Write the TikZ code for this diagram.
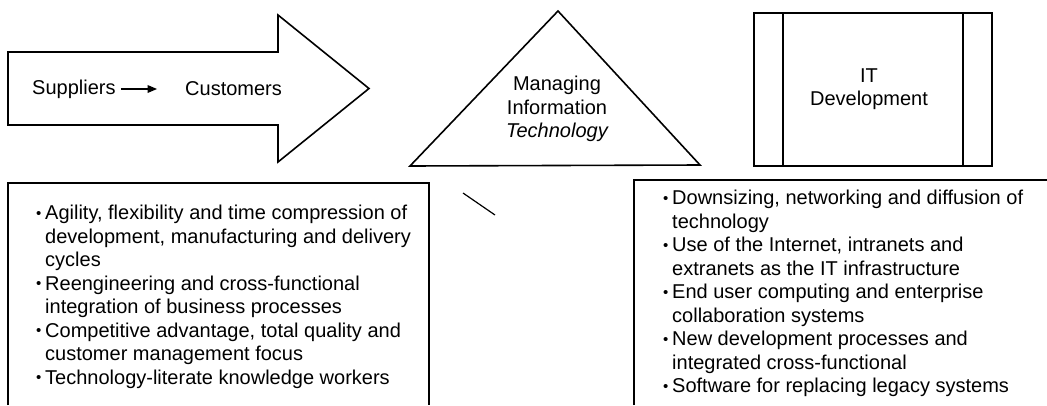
\documentclass[tikz,border=0pt]{standalone}
\usepackage{fontspec}
\setmainfont{Liberation Sans}
\usetikzlibrary{positioning, arrows}
\tikzset{
outline/.style={draw, line width=1.6pt, line join=miter}, % the big shapes
word/.style={font=\fontsize{20}{23.5}\selectfont, inner sep=0pt}, % every text
bullets/.style={word, align=left, anchor=base west}, % the two lists (base = last line)
}
\newcommand{\itm}{\makebox[9pt][l]{\raisebox{1.2pt}{\fontsize{15}{15}\selectfont\textbullet}}}
\newcommand{\ind}{\makebox[9pt]{}}

\begin{document}
\begin{tikzpicture}[x=1pt, y=-1pt]
            \useasboundingbox (0,0) rectangle (1047,405);
            % arrow: suppliers to customers
            \draw[outline] (8,52) -- (278,52) -- (278,15) -- (369,88.5)
                -- (278,162) -- (278,125) -- (8,125) -- cycle;
            \node[word, anchor=west] (sup) at (32,89) {Suppliers};
            \node[word, anchor=west] (cus) at (185,89) {Customers};
            \draw[-triangle 45, line width=1.2pt, shorten <=5pt, shorten >=28pt] (sup) -- (cus);
            % triangle
            \draw[outline] (410,166) -- (558,11) -- (700,165) -- cycle;
            \node[word, align=center] (mit) at (557,109)
                {Managing\\Information\\\itshape Technology};
            % IT development box
            \draw[outline] (754,13) rectangle (992,166);
            \draw[outline] (783,13) -- (783,166);
            \draw[outline] (963,13) -- (963,166);
            \node[word, align=center] (itd) at (869,89) {IT\\Development};
            % stray stroke
            \draw[line width=1.2pt] (463,193) -- (495,215);
            % left list
            \draw[outline] (8,405) -- (8,183) -- (429,183) -- (429,405);
            \node[bullets] (bus) at (36,384) {
                \itm Agility, flexibility and time compression of\\
                \ind development, manufacturing and delivery\\
                \ind cycles\\
                \itm Reengineering and cross-functional\\
                \ind integration of business processes\\
                \itm Competitive advantage, total quality and\\
                \ind customer management focus\\
                \itm Technology-literate knowledge workers};
            % right list
            \draw[outline] (634,405) -- (634,180) -- (1047,180);
            \node[bullets] (tec) at (663,392.5) {
                \itm Downsizing, networking and diffusion of\\
                \ind technology\\
                \itm Use of the Internet, intranets and\\
                \ind extranets as the IT infrastructure\\
                \itm End user computing and enterprise\\
                \ind collaboration systems\\
                \itm New development processes and\\
                \ind integrated cross-functional\\
                \itm Software for replacing legacy systems};
        \end{tikzpicture}
\end{document}
